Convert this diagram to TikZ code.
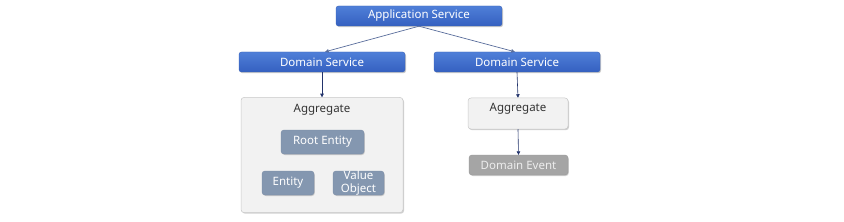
\documentclass[tikz,border=0pt]{standalone}
\usepackage{fontspec}
\setmainfont{Noto Sans}
\usetikzlibrary{shadows,arrows.meta}
\definecolor{bluetop}{HTML}{4F7FD8}
\definecolor{bluebot}{HTML}{3560C0}
\definecolor{blueedge}{HTML}{3A62B8}
\definecolor{slate}{HTML}{8497B0}
\definecolor{slateedge}{HTML}{7A8CA6}
\definecolor{agfill}{HTML}{F2F2F2}
\definecolor{agedge}{HTML}{C8C8C8}
\definecolor{evfill}{HTML}{A5A5A5}
\definecolor{evedge}{HTML}{979797}
\definecolor{evtext}{HTML}{EDEDED}
\definecolor{linetop}{HTML}{5A6E9C}
\definecolor{linenavy}{HTML}{22336B}
\tikzset{
  svc/.style={rectangle, rounded corners=2.5pt, draw=blueedge, line width=0.4pt,
    top color=bluetop, bottom color=bluebot, text=white,
    minimum width=166pt, minimum height=20pt, inner sep=0pt,
    font=\fontsize{11.5}{12}\selectfont,
    drop shadow={shadow xshift=1pt, shadow yshift=-1.2pt, opacity=0.35, fill=black!60}},
  part/.style={rectangle, rounded corners=3pt, draw=slateedge, line width=0.4pt,
    fill=slate, text=white, inner sep=0pt, align=center,
    font=\fontsize{11.5}{12}\selectfont,
    drop shadow={shadow xshift=0.8pt, shadow yshift=-1pt, opacity=0.3, fill=black!60}},
  aggbox/.style={rectangle, rounded corners=3pt, draw=agedge, line width=0.5pt,
    fill=agfill, inner sep=0pt,
    drop shadow={shadow xshift=1pt, shadow yshift=-1.2pt, opacity=0.3, fill=black!60}},
  lbl/.style={inner sep=0pt, text=black!80, font=\fontsize{11.5}{12}\selectfont},
  evbox/.style={rectangle, rounded corners=3pt, draw=evedge, line width=0.4pt,
    fill=evfill, text=evtext, minimum width=99pt, minimum height=20pt, inner sep=0pt,
    font=\fontsize{11.5}{12}\selectfont,
    drop shadow={shadow xshift=0.8pt, shadow yshift=-1pt, opacity=0.3, fill=black!60}},
  conn/.style={draw=linetop, line width=0.7pt, -{Triangle[length=3.5pt,width=3.5pt]}, shorten >=0.2pt},
  vconn/.style={draw=linenavy, line width=0.6pt, -{Triangle[length=3.5pt,width=3.5pt]}}
}
\begin{document}
\begin{tikzpicture}[x=1pt,y=-1pt]
\useasboundingbox[fill=white] (0,0) rectangle (844,222);
% services
\node[svc] (app) at (419,16) {Application Service};
\node[svc] (dsl) at (322,62) {Domain Service};
\node[svc] (dsr) at (517,62) {Domain Service};
% left aggregate
\node[aggbox, minimum width=162pt, minimum height=115pt] (aggl) at (322,155) {};
\node[lbl] (aggllbl) at (322,110) {Aggregate};
\node[part, minimum width=83pt, minimum height=24pt] (root) at (322.5,142) {Root Entity};
\node[part, minimum width=52pt, minimum height=24pt] (ent) at (288,183) {Entity};
\node[part, minimum width=51pt, minimum height=24pt] (vo) at (358.5,183) {Value\\[0.5pt]Object};
% right aggregate
\node[aggbox, minimum width=100pt, minimum height=31pt] (aggr) at (518,113.5) {};
\node[lbl] (aggrlbl) at (518,108.5) {Aggregate};
\node[evbox] (ev) at (518.5,165) {Domain Event};
% connectors
\draw[conn] (app.south) -- ([xshift=3pt]dsl.north);
\draw[conn] (app.south) -- ([xshift=-2pt]dsr.north);
\draw[vconn] (dsl.south) -- (aggl.north);
\draw[vconn] (dsr.south) -- (aggr.north);
\draw[vconn] (aggr.south) -- (ev.north);
\end{tikzpicture}
\end{document}
